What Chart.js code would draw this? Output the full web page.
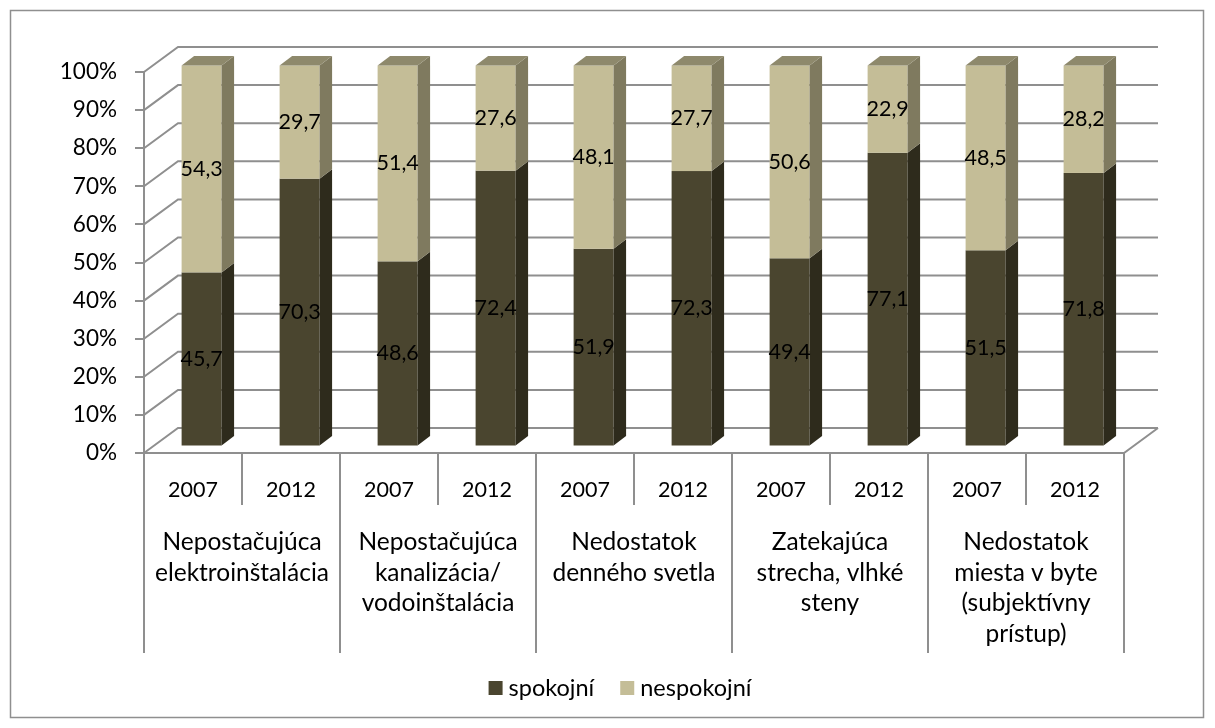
<!DOCTYPE html>
<html>
<head>
<meta charset="utf-8">
<script src="https://cdn.jsdelivr.net/npm/chart.js@4/dist/chart.umd.min.js"></script>
<style>
  html, body { margin: 0; padding: 0; background: #fff; }
  canvas { display: block; }
</style>
</head>
<body>
<canvas id="chart" width="1215" height="728"></canvas>
<script>
// data
const groupLabels = [
    ['Nepostačujúca', 'elektroinštalácia'],
    ['Nepostačujúca', 'kanalizácia/', 'vodoinštalácia'],
    ['Nedostatok', 'denného svetla'],
    ['Zatekajúca', 'strecha, vlhké', 'steny'],
    ['Nedostatok', 'miesta v byte', '(subjektívny', 'prístup)']
];
const yearLabels = ['2007', '2012'];
const spokojni = [45.7, 70.3, 48.6, 72.4, 51.9, 72.3, 49.4, 77.1, 51.5, 71.8];
const nespokojni = [54.3, 29.7, 51.4, 27.6, 48.1, 27.7, 50.6, 22.9, 48.5, 28.2];
const seriesNames = ['spokojní', 'nespokojní'];

const FONT = 'Lato';
// Lato digits run wide and letters narrow next to the original font, so sizes differ per role
const SIZE_TICK = 22.5;
const SIZE_YEAR = 21.5;
const SIZE_VALUE = 21.5;
const SIZE_GROUP = 24.5;
const SIZE_LEGEND = 23.5;
const GRID = '#8f8f8f';

// shading for the 3d boxes: front, side, top
const faces = [
    { front: '#4a452f', side: '#2e2b1c', top: '#5e5940' },
    { front: '#c4bd97', side: '#7f7a5f', top: '#8e896c' }
];

const WALL = { x: 34, y: -25 };       // back wall offset from front plane
const BAR_SHIFT = { x: 8.6, y: -6.5 }; // bar front face offset
const BAR_DEPTH = { x: 12.5, y: -9.5 };

const categories = [];
groupLabels.forEach(() => yearLabels.forEach(y => categories.push(y)));

const fmt = v => v.toFixed(1).replace('.', ',');

const box3d = {
    id: 'box3d',
    beforeDraw(chart) {
        const ctx = chart.ctx;
        ctx.save();
        ctx.strokeStyle = GRID;
        ctx.lineWidth = 1.5;
        ctx.strokeRect(10.5, 10.5, 1193, 707);
        ctx.restore();
    },
    beforeDatasetsDraw(chart) {
        const { ctx, chartArea: a, scales: { x, y } } = chart;
        ctx.save();
        ctx.strokeStyle = GRID;
        ctx.lineWidth = 2;
        // side wall + back wall grid
        for (let v = 0; v <= 100; v += 10) {
            const py = y.getPixelForValue(v);
            ctx.beginPath();
            ctx.moveTo(a.left, py);
            ctx.lineTo(a.left + WALL.x, py + WALL.y);
            ctx.lineTo(a.right + WALL.x, py + WALL.y);
            ctx.stroke();
        }
        // floor edges
        ctx.beginPath();
        ctx.moveTo(a.left, a.bottom);
        ctx.lineTo(a.right, a.bottom);
        ctx.lineTo(a.right + WALL.x, a.bottom + WALL.y);
        ctx.stroke();

        // category table under the floor
        const step = x.getPixelForValue(1) - x.getPixelForValue(0);
        for (let i = 0; i <= categories.length; i++) {
            const px = x.getPixelForValue(0) - step / 2 + i * step;
            ctx.beginPath();
            ctx.moveTo(px, a.bottom);
            ctx.lineTo(px, a.bottom + (i % 2 === 0 ? 200 : 52));
            ctx.stroke();
        }

        ctx.fillStyle = '#000';
        ctx.textAlign = 'center';
        ctx.textBaseline = 'middle';
        ctx.font = `${SIZE_YEAR}px ${FONT}`;
        categories.forEach((c, i) => {
            ctx.fillText(c, x.getPixelForValue(i), a.bottom + 37);
        });
        ctx.font = `${SIZE_GROUP}px ${FONT}`;
        groupLabels.forEach((lines, g) => {
            const cx = (x.getPixelForValue(g * 2) + x.getPixelForValue(g * 2 + 1)) / 2;
            lines.forEach((t, k) => ctx.fillText(t, cx, a.bottom + 89 + k * 30.7));
        });
        ctx.restore();
    },
    beforeDatasetDraw() {
        return false; // bars are drawn as boxes below
    },
    afterDatasetsDraw(chart) {
        const ctx = chart.ctx;
        const metas = chart.data.datasets.map((d, i) => chart.getDatasetMeta(i));
        ctx.save();
        for (let i = 0; i < categories.length; i++) {
            metas.forEach((meta, s) => {
                const bar = meta.data[i];
                const f = faces[s];
                const x0 = bar.x - bar.width / 2 + BAR_SHIFT.x;
                const x1 = bar.x + bar.width / 2 + BAR_SHIFT.x;
                const yt = bar.y + BAR_SHIFT.y;
                const yb = bar.base + BAR_SHIFT.y;
                ctx.fillStyle = f.front;
                ctx.fillRect(x0, yt, x1 - x0, yb - yt);
                ctx.fillStyle = f.side;
                ctx.beginPath();
                ctx.moveTo(x1, yt);
                ctx.lineTo(x1 + BAR_DEPTH.x, yt + BAR_DEPTH.y);
                ctx.lineTo(x1 + BAR_DEPTH.x, yb + BAR_DEPTH.y);
                ctx.lineTo(x1, yb);
                ctx.closePath();
                ctx.fill();
                if (s === metas.length - 1) {
                    ctx.fillStyle = f.top;
                    ctx.beginPath();
                    ctx.moveTo(x0, yt);
                    ctx.lineTo(x0 + BAR_DEPTH.x, yt + BAR_DEPTH.y);
                    ctx.lineTo(x1 + BAR_DEPTH.x, yt + BAR_DEPTH.y);
                    ctx.lineTo(x1, yt);
                    ctx.closePath();
                    ctx.fill();
                }
            });
        }
        // value labels
        ctx.fillStyle = '#000';
        ctx.font = `${SIZE_VALUE}px ${FONT}`;
        ctx.textAlign = 'center';
        ctx.textBaseline = 'middle';
        metas.forEach((meta, s) => {
            meta.data.forEach((bar, i) => {
                const v = chart.data.datasets[s].data[i];
                ctx.fillText(fmt(v), bar.x + BAR_SHIFT.x, (bar.y + bar.base) / 2 + BAR_SHIFT.y);
            });
        });
        ctx.restore();
    },
    afterDraw(chart) {
        // legend
        const ctx = chart.ctx;
        ctx.save();
        ctx.font = `${SIZE_LEGEND}px ${FONT}`;
        ctx.textBaseline = 'middle';
        ctx.textAlign = 'left';
        const box = 14, gap = 6, spacing = 26, cy = 688;
        const widths = seriesNames.map(n => box + gap + ctx.measureText(n).width);
        const total = widths.reduce((p, w) => p + w, 0) + spacing * (widths.length - 1);
        let px = 620 - total / 2;
        chart.data.datasets.forEach((d, i) => {
            ctx.fillStyle = d.backgroundColor;
            ctx.fillRect(px, cy - box / 2, box, box);
            ctx.fillStyle = '#000';
            ctx.fillText(d.label, px + box + gap, cy);
            px += widths[i] + spacing;
        });
        ctx.restore();
    }
};

new Chart(document.getElementById('chart'), {
    type: 'bar',
    data: {
        labels: categories,
        datasets: [
            { label: seriesNames[0], data: spokojni, backgroundColor: faces[0].front },
            { label: seriesNames[1], data: nespokojni, backgroundColor: faces[1].front }
        ]
    },
    options: {
        responsive: false,
        animation: false,
        events: [],
        layout: { padding: { left: 0, top: 72, right: 91, bottom: 275 } },
        datasets: { bar: { categoryPercentage: 1, barPercentage: 0.408 } },
        plugins: { legend: { display: false }, tooltip: { enabled: false } },
        scales: {
            x: { stacked: true, display: false },
            y: {
                stacked: true,
                min: 0,
                max: 100,
                afterFit(scale) { scale.width = 144; },
                ticks: {
                    stepSize: 10,
                    padding: 18,
                    color: '#000',
                    font: { family: FONT, size: SIZE_TICK },
                    callback: v => v + '%'
                },
                grid: { drawOnChartArea: false, tickLength: 9, color: GRID, lineWidth: 2 },
                border: { color: GRID, width: 2 }
            }
        }
    },
    plugins: [box3d]
});
</script>
</body>
</html>
